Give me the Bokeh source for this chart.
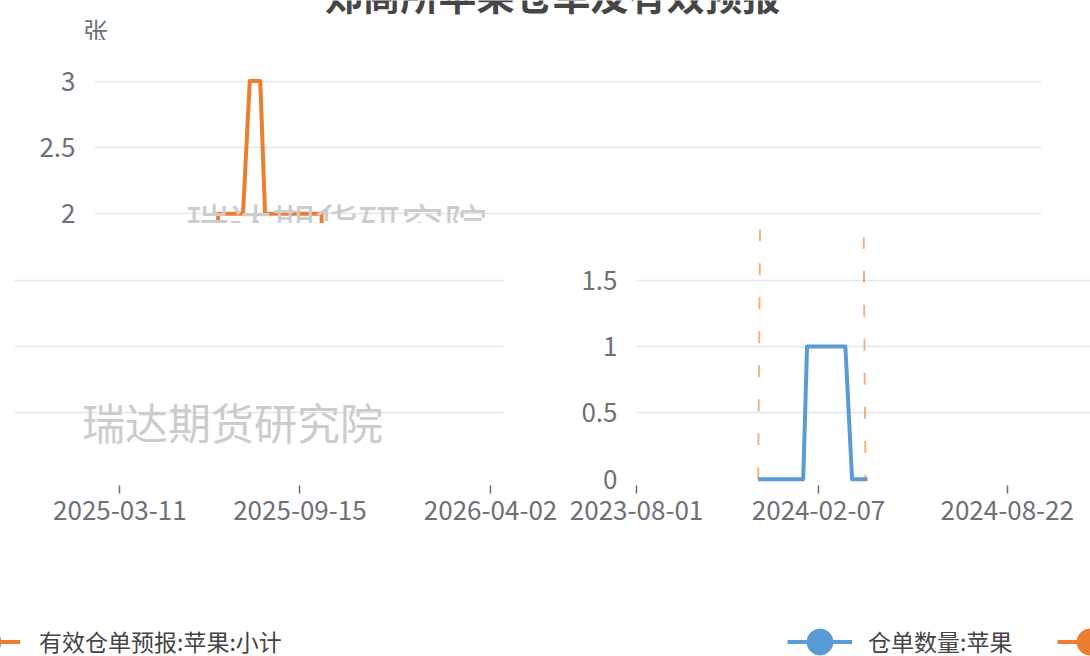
import datetime as dt
import pandas as pd
from bokeh.plotting import figure
from bokeh.models import (Range1d, FixedTicker, DatetimeTickFormatter, Label,
                          Legend, LegendItem, ColumnDataSource)
from bokeh.layouts import column, row
from bokeh.embed import file_html
from bokeh.resources import INLINE

# ---------------- data ----------------
TITLE = "郑商所苹果仓单及有效预报"
Y_UNIT = "张"
WATERMARK = "瑞达期货研究院"
NAME_RECEIPTS = "仓单数量:苹果"
NAME_FORECAST = "有效仓单预报:苹果:小计"

receipt_dates = ["2023-12-06", "2024-01-22", "2024-01-26", "2024-03-06", "2024-03-13", "2024-03-29"]
receipt_values = [0, 0, 1, 1, 0, 0]

forecast_dates = ["2023-12-06", "2023-12-08", "2024-01-03", "2024-01-10", "2024-01-21",
                  "2024-01-26", "2024-03-25", "2024-03-27", "2024-03-29"]
forecast_values = [0, 2, 2, 3, 3, 2, 2, 0, 0]

x_tick_dates = ["2023-08-01", "2024-02-07", "2024-08-22", "2025-03-11", "2025-09-15", "2026-04-02"]
y_ticks = [0, 0.5, 1, 1.5, 2, 2.5, 3]
y_tick_labels = ["0", "0.5", "1", "1.5", "2", "2.5", "3"]
grid_ticks = [0.5, 1, 1.5, 2, 2.5, 3]

# ---------------- geometry / style ----------------
D0 = dt.datetime(2023, 8, 1)
K = 0.958                # px per day
X0 = 94                  # px of first category in the chart frame
Y0 = 478.7               # px of value 0
KY = 132.7               # px per unit
FONT = "Noto Sans CJK SC"
GRAY = "#6E7079"
BLUE = "#5B9BD5"
ORANGE = "#ED7D31"
GRID = "#E0E6F1"
WM = "#CCCCCC"

def date_at(x):
    return D0 + dt.timedelta(days=(x - X0) / K)

def val_at(y):
    return (Y0 - y) / KY

def ms(d):
    return (d - dt.datetime(1970, 1, 1)).total_seconds() * 1000.0

src_r = ColumnDataSource(dict(date=pd.to_datetime(receipt_dates), value=receipt_values))
src_f = ColumnDataSource(dict(date=pd.to_datetime(forecast_dates), value=forecast_values))
tick_ms = [ms(dt.datetime.fromisoformat(s)) for s in x_tick_dates]
ovr = {t: l for t, l in zip(y_ticks, y_tick_labels)}
fmt = "%Y-%m-%d"
dfmt = DatetimeTickFormatter(microseconds=fmt, milliseconds=fmt, seconds=fmt, minsec=fmt,
                             minutes=fmt, hourmin=fmt, hours=fmt, days=fmt, months=fmt, years=fmt)


def make_fig(width, height, x_lo, x_hi, y_lo_px, y_hi_px, borders,
             x_axis=True, y_axis=True, lines=True, faint_orange=False):
    p = figure(width=width, height=height, x_axis_type="datetime",
               x_range=Range1d(ms(date_at(x_lo)) - 3.6e6, ms(date_at(x_hi))),
               y_range=Range1d(val_at(y_lo_px), val_at(y_hi_px)),
               x_axis_location="below" if x_axis else None,
               y_axis_location="left" if y_axis else None,
               output_backend="svg", toolbar_location=None,
               min_border_left=borders[0], min_border_right=borders[1],
               min_border_top=borders[2], min_border_bottom=borders[3])
    p.outline_line_color = None
    p.background_fill_color = "white"
    p.border_fill_color = "white"
    p.xgrid.visible = False
    p.ygrid.ticker = FixedTicker(ticks=grid_ticks)
    p.ygrid.grid_line_color = GRID
    p.ygrid.grid_line_width = 1.5
    if not lines:
        p.ygrid.visible = False
    if y_axis:
        ax = p.yaxis[0]
        ax.ticker = FixedTicker(ticks=y_ticks)
        ax.major_label_overrides = ovr
        ax.axis_line_color = None
        ax.major_tick_line_color = None
        ax.major_tick_out = 0
        ax.major_tick_in = 0
        ax.minor_tick_line_color = None
        ax.minor_tick_out = 0
        ax.major_label_standoff = 19
        ax.major_label_text_font = FONT
        ax.major_label_text_font_size = "26px"
        ax.major_label_text_color = GRAY
    if x_axis:
        ax = p.xaxis[0]
        ax.ticker = FixedTicker(ticks=tick_ms)
        ax.formatter = dfmt
        ax.axis_line_color = None
        ax.major_tick_line_color = GRAY
        ax.major_tick_line_width = 1.5
        ax.major_tick_out = 8
        ax.major_tick_in = 0
        ax.minor_tick_line_color = None
        ax.major_label_standoff = 7
        ax.major_label_text_font = FONT
        ax.major_label_text_font_size = "26px"
        ax.major_label_text_color = GRAY
    if lines:
        if faint_orange:
            p.line("date", "value", source=src_f, line_color=ORANGE, line_width=2,
                   line_alpha=0.6, line_dash="12 22")
        else:
            p.line("date", "value", source=src_f, line_color=ORANGE, line_width=4,
                   line_join="round")
        p.line("date", "value", source=src_r, line_color=BLUE, line_width=4, line_join="round")
    return p


def add_label(p, text, x, y_px, size, color, bold=False, baseline="middle"):
    p.add_layout(Label(x=ms(date_at(x)), y=val_at(y_px), text=text,
                       text_align="center", text_baseline=baseline,
                       text_font=FONT, text_font_size=size, text_color=color,
                       text_font_style="bold" if bold else "normal"))


def legend_fig(width, height, specs, loc, standoff):
    # legend strip: the series are drawn far outside this strip's ranges,
    # so only their legend icons show
    p = figure(width=width, height=height, x_range=Range1d(0, 1), y_range=Range1d(0, 1),
               x_axis_location=None, y_axis_location=None, output_backend="svg",
               toolbar_location=None, min_border=0)
    p.grid.visible = False
    p.outline_line_color = None
    items = []
    for label, color, src in specs:
        ln = p.line("date", "value", source=src, line_color=color, line_width=4)
        dot = p.scatter("date", "value", source=src, marker="circle",
                        fill_color=color, line_color=color, size=10)
        items.append(LegendItem(label=label, renderers=[ln, dot]))
    leg = Legend(items=items, orientation="horizontal", location=loc,
                 glyph_width=65, glyph_height=65, label_standoff=standoff, spacing=45,
                 padding=0, margin=0, border_line_color=None, background_fill_alpha=0,
                 label_text_font=FONT, label_text_font_size="23px", label_text_color="#444444")
    p.add_layout(leg)
    return p


# ---- title strip (y 0..40) ----
t0 = make_fig(1090, 40, 0, 1090, 40, 0, (0, 0, 0, 0), x_axis=False, y_axis=False, lines=False)
add_label(t0, TITLE, 552, 20, "38px", "#464646", bold=True, baseline="bottom")
add_label(t0, Y_UNIT, 95, 29, "25px", GRAY)

# ---- top strip (original position, y 40..223) ----
top = make_fig(1090, 183, 94, 1041, 223, 40, (94, 1090 - 1041, 0, 0), x_axis=False)
add_label(top, WATERMARK, 336, 221, "43px", WM)

# ---- lower-left tile (chart shifted by -538), y 223..560 ----
SL = -538
pb = make_fig(562, 337, 14 - SL, 503 - SL, 485, 223, (14, 562 - 503, 0, 337 - (485 - 223)),
              y_axis=False)
add_label(pb, WATERMARK, 232 - SL, 420, "43px", WM)

# ---- lower-right tile (chart shifted by +542), y 223..560 ----
SR = 542
pc = make_fig(528, 337, 636 - SR, 1090 - SR, 485, 223, (636 - 562, 0, 0, 337 - (485 - 223)),
              faint_orange=True)

# ---- legend strip (y 560..656) ----
lb = legend_fig(562, 96, [(NAME_FORECAST, ORANGE, src_f)], (-45, 656 - 673.5), 19)
lc = legend_fig(528, 96, [(NAME_RECEIPTS, BLUE, src_r), (" ", ORANGE, src_f)],
                (787 - 562, 656 - 673.5), 16)

layout = column(row(t0), row(top), row(pb, pc, spacing=0), row(lb, lc, spacing=0), spacing=0)
open("out.html", "w").write(file_html(layout, INLINE))
